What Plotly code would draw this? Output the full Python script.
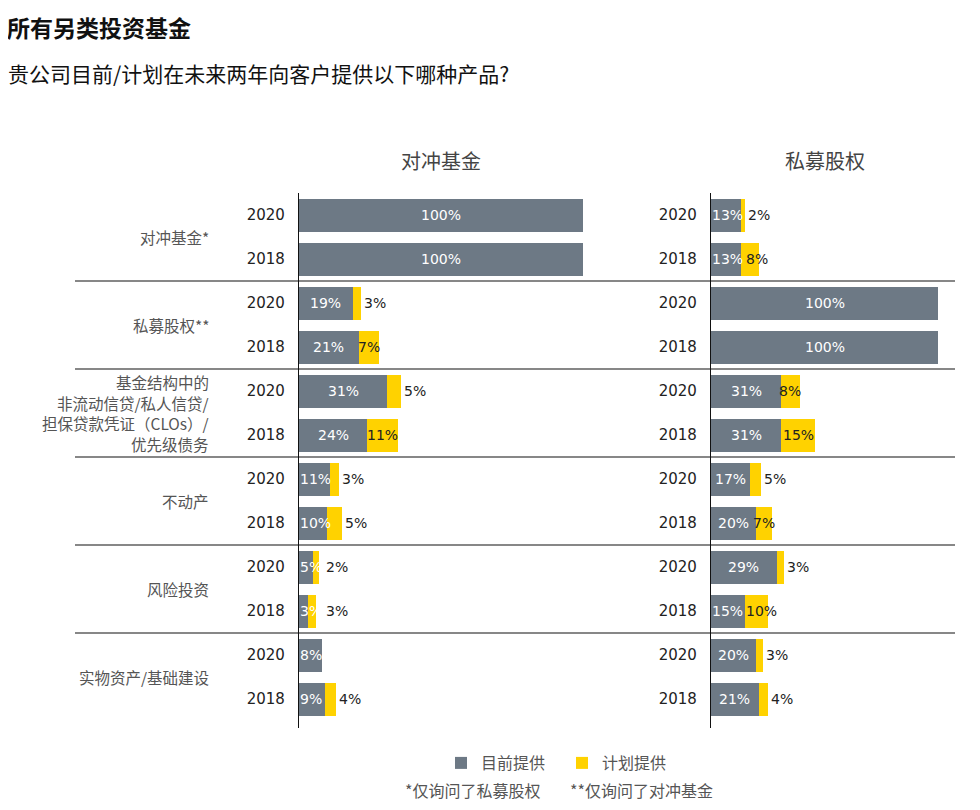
import plotly.graph_objects as go

# ---------------- data ----------------
categories = ["对冲基金*", "私募股权**",
              "基金结构中的<br>非流动信贷/私人信贷/<br>担保贷款凭证（CLOs）/<br>优先级债务",
              "不动产", "风险投资", "实物资产/基础建设"]
years = ["2020", "2018"]
panel_titles = ["对冲基金", "私募股权"]
series_names = ["目前提供", "计划提供"]
footnotes = ["*仅询问了私募股权", "**仅询问了对冲基金"]

# rows: category x year (2020, 2018)
hf_current = [100, 100, 19, 21, 31, 24, 11, 10, 5, 3, 8, 9]
hf_planned = [0, 0, 3, 7, 5, 11, 3, 5, 2, 3, 0, 4]
pe_current = [13, 13, 100, 100, 31, 31, 17, 20, 29, 15, 20, 21]
pe_planned = [2, 8, 0, 0, 8, 15, 5, 7, 3, 10, 3, 4]

# ---------------- styling ----------------
OFF = 8                      # default page body margin
W, H = 980 - 2 * OFF, 810 - 2 * OFF
GRAY = "#6d7985"
YELLOW = "#ffd200"
CJK = "Noto Sans CJK SC"
NUM = "DejaVu Sans"
LBL = 14

n_rows = len(categories) * len(years)
ypos = list(range(n_rows))
yticks = [years[i % len(years)] for i in range(n_rows)]

# screen-pixel geometry of the two panels
panels = [
    dict(x0=299, x1=583, cur=hf_current, plan=hf_planned, xa="x", ya="y"),
    dict(x0=711, x1=938, cur=pe_current, plan=pe_planned, xa="x2", ya="y2"),
]
slot = 44.0
y_top_px = 193
y_range = [n_rows - 0.35, -0.5]  # reversed
y_bottom_px = y_top_px + slot * (y_range[0] - y_range[1])


def px(xp):
    return (xp - OFF) / W


def py(yp):
    return 1 - (yp - OFF) / H


def text_w(s, size):
    # rough width of a DejaVu Sans label like "12%"
    return sum(0.636 if ch.isdigit() else 0.95 for ch in s) * size


fig = go.Figure()
annotations = []

for k, p in enumerate(panels):
    fig.add_trace(go.Bar(
        y=ypos, x=p["cur"], orientation="h", marker=dict(color=GRAY, line=dict(width=0)),
        width=0.75, name=series_names[0], xaxis=p["xa"], yaxis=p["ya"],
        showlegend=(k == 0), legendgroup="a", hoverinfo="skip"))
    fig.add_trace(go.Bar(
        y=ypos, x=p["plan"], orientation="h", marker=dict(color=YELLOW, line=dict(width=0)),
        width=0.75, name=series_names[1], xaxis=p["xa"], yaxis=p["ya"],
        showlegend=(k == 0), legendgroup="b", hoverinfo="skip"))

    scale = (p["x1"] - p["x0"]) / 100.0
    for i, (c, pl) in enumerate(zip(p["cur"], p["plan"])):
        gray_end = 0.0
        if c > 0:
            t = f"{c}%"
            tw = text_w(t, LBL)
            if c * scale >= tw + 4:
                annotations.append(dict(x=c / 2, y=i, xref=p["xa"], yref=p["ya"],
                                        text=t, showarrow=False, xanchor="center",
                                        font=dict(family=NUM, size=LBL, color="white")))
                gray_end = c * scale / 2 + tw / 2
            else:
                annotations.append(dict(x=0, y=i, xref=p["xa"], yref=p["ya"],
                                        text=t, showarrow=False, xanchor="left", xshift=-1,
                                        font=dict(family=NUM, size=LBL, color="white")))
                gray_end = tw + 2
        if pl > 0:
            t = f"{pl}%"
            tw = text_w(t, LBL)
            if pl * scale >= 15:
                left = (c + pl / 2) * scale - tw / 2
                shift = max(0.0, gray_end + 2 - left)
                annotations.append(dict(x=c + pl / 2, y=i, xref=p["xa"], yref=p["ya"],
                                        text=t, showarrow=False, xanchor="center", xshift=shift,
                                        font=dict(family=NUM, size=LBL, color="#222222")))
            else:
                end_px = (c + pl) * scale
                shift = max(1.0, gray_end - end_px + 1)
                annotations.append(dict(x=c + pl, y=i, xref=p["xa"], yref=p["ya"],
                                        text=t, showarrow=False, xanchor="left", xshift=shift,
                                        font=dict(family=NUM, size=LBL, color="#222222")))
    # panel title
    annotations.append(dict(x=px((p["x0"] + p["x1"]) / 2), y=py(160), xref="paper", yref="paper",
                            text=panel_titles[k], showarrow=False, xanchor="center", yanchor="middle",
                            font=dict(family=CJK, size=20, color="#444444")))

# category labels (multi-line labels split into separate lines, ~20.5 px apart)
LINE = 20.5
for g, cat in enumerate(categories):
    yc = g * len(years) + (len(years) - 1) / 2
    lines = cat.split("<br>")
    n = len(lines)
    for j, ln in enumerate(lines):
        annotations.append(dict(x=px(211), y=yc, xref="paper", yref="y", text=ln, showarrow=False,
                                xanchor="right", yanchor="middle", align="right",
                                yshift=((n - 1) / 2 - j) * LINE,
                                font=dict(family=CJK, size=15.5, color="#555555")))

# separators between groups
shapes = []
for g in range(1, len(categories)):
    yb = g * len(years) - 0.5
    shapes.append(dict(type="line", xref="paper", yref="y", x0=px(75), x1=px(955), y0=yb, y1=yb,
                       line=dict(color="#111111", width=1.2)))

# titles
annotations.append(dict(x=px(5), y=1.0, xref="paper", yref="paper", text="<b>所有另类投资基金</b>",
                        showarrow=False, xanchor="left", yanchor="top",
                        font=dict(family=CJK, size=23, color="#111111")))
annotations.append(dict(x=px(6), y=py(73), xref="paper", yref="paper",
                        text="贵公司目前/计划在未来两年向客户提供以下哪种产品?",
                        showarrow=False, xanchor="left", yanchor="middle",
                        font=dict(family=CJK, size=21, color="#111111")))
# footnotes
annotations.append(dict(x=px(403), y=py(790), xref="paper", yref="paper", text=footnotes[0],
                        showarrow=False, xanchor="left", yanchor="middle",
                        font=dict(family=CJK, size=16, color="#555555")))
annotations.append(dict(x=px(568), y=py(790), xref="paper", yref="paper", text=footnotes[1],
                        showarrow=False, xanchor="left", yanchor="middle",
                        font=dict(family=CJK, size=16, color="#555555")))

ydom = [py(y_bottom_px), py(y_top_px)]
yaxis_common = dict(range=y_range, domain=ydom, tickvals=ypos, ticktext=yticks,
                    showline=True, linecolor="#111111", linewidth=1.2, showgrid=False,
                    zeroline=False, ticks="", ticklabelstandoff=10,
                    tickfont=dict(family=NUM, size=15, color="#222222"), fixedrange=True)
xaxis_common = dict(range=[0, 100], showgrid=False, zeroline=False, showticklabels=False,
                    showline=False, ticks="", fixedrange=True)

fig.update_layout(
    width=W, height=H, margin=dict(l=0, r=0, t=0, b=0),
    paper_bgcolor="white", plot_bgcolor="white",
    barmode="stack", bargap=0.25,
    xaxis=dict(domain=[px(299), px(583)], anchor="y", **xaxis_common),
    xaxis2=dict(domain=[px(711), px(938)], anchor="y2", **xaxis_common),
    yaxis=dict(anchor="x", **yaxis_common),
    yaxis2=dict(anchor="x2", **yaxis_common),
    showlegend=True,
    legend=dict(orientation="h", x=px(441), y=py(763), xanchor="left", yanchor="middle",
                font=dict(family=CJK, size=16, color="#555555"), traceorder="normal",
                itemclick=False, itemdoubleclick=False, entrywidth=76, itemwidth=30),
    annotations=annotations, shapes=shapes,
)

fig.write_html("out.html")
